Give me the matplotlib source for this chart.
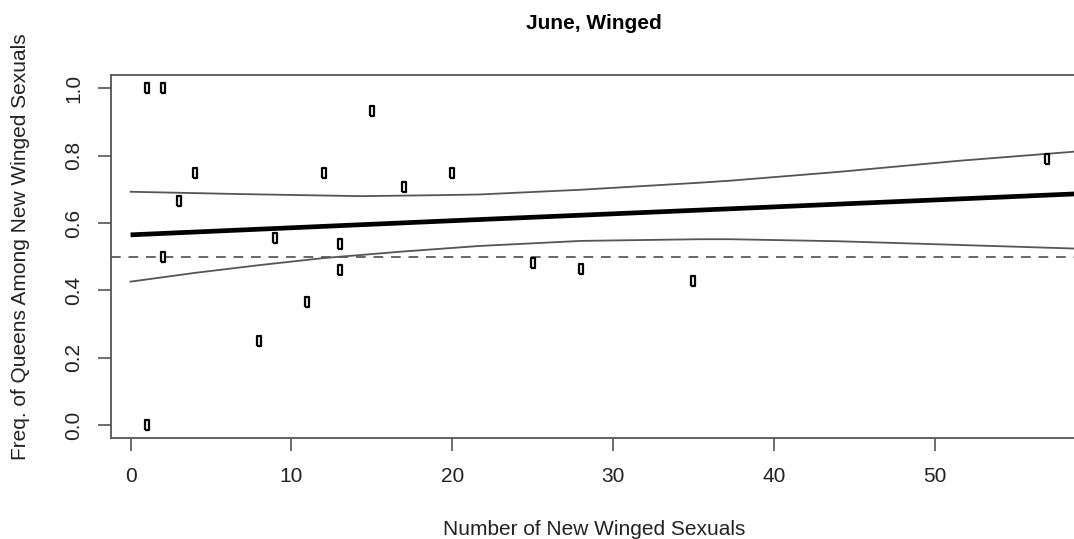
import matplotlib
matplotlib.use("Agg")
import matplotlib.pyplot as plt

plt.rcParams['font.family'] = ['Liberation Sans', 'DejaVu Sans']

# observed colonies: number of new winged sexuals vs. fraction queens
n_sexuals = [1, 1, 2, 2, 3, 4, 8, 9, 11, 12, 13, 13, 15, 17, 20, 25, 28, 35, 57]
freq_queens = [0.0, 1.0, 1.0, 0.5, 0.667, 0.75, 0.25, 0.556, 0.364, 0.75,
               0.538, 0.462, 0.933, 0.706, 0.75, 0.48, 0.464, 0.429, 0.789]

# fitted line and confidence band
fit_x = [0, 20, 40, 58.9]
fit_y = [0.565, 0.607, 0.648, 0.687]
upper_x = [0, 7, 14.3, 19.3, 21.7, 28, 35.4, 37.3, 44, 51.5, 58.9]
upper_y = [0.693, 0.686, 0.680, 0.683, 0.685, 0.699, 0.720, 0.726, 0.752, 0.785, 0.813]
lower_x = [0, 4, 8, 12, 16.8, 21.7, 28, 35.4, 37.3, 44, 51.5, 58.9]
lower_y = [0.426, 0.452, 0.475, 0.496, 0.515, 0.532, 0.547, 0.552, 0.552, 0.546, 0.535, 0.524]

x_ticks = [0, 10, 20, 30, 40, 50]
y_ticks = [0.0, 0.2, 0.4, 0.6, 0.8, 1.0]

fig = plt.figure(figsize=(10.74, 5.39), dpi=100)
ax = fig.add_axes([0.103, 0.1865, 0.9, 0.6744])

ax.axhline(0.5, color='#666666', lw=1.4, ls=(0, (5, 4)))
ax.plot(upper_x, upper_y, color='#555555', lw=1.3)
ax.plot(lower_x, lower_y, color='#555555', lw=1.3)
ax.plot(fit_x, fit_y, color='black', lw=3.4, solid_capstyle='butt')

rect = [(-0.45, -1), (0.45, -1), (0.45, 1), (-0.45, 1), (-0.45, -1)]
ax.plot(n_sexuals, freq_queens, ls='none', marker=rect, markersize=7.5,
        markerfacecolor='white', markeredgecolor='black', markeredgewidth=1.6)

ax.set_xlim(-1.24, 58.86)
ax.set_ylim(-0.04, 1.04)
ax.set_xticks(x_ticks)
ax.set_yticks(y_ticks)
ax.set_xticklabels([str(t) for t in x_ticks])
ax.set_yticklabels(['%.1f' % t for t in y_ticks], rotation=90, va='center')

for s in ax.spines.values():
    s.set_color('#555555')
    s.set_linewidth(1.3)
ax.spines['right'].set_visible(False)
ax.tick_params(axis='both', length=9.5, width=1.2, color='#555555',
               labelsize=15, labelcolor='#222222')
ax.tick_params(axis='x', pad=11)
ax.tick_params(axis='y', pad=10)

fig.text(0.553, 0.957, 'June, Winged', ha='center', va='center',
         fontsize=15, fontweight='bold')
fig.text(0.553, 0.017, 'Number of New Winged Sexuals', ha='center',
         va='center', fontsize=15, color='#222222')
fig.text(0.019, 0.542, 'Freq. of Queens Among New Winged Sexuals',
         ha='center', va='center', rotation=90, fontsize=15, color='#222222')

fig.savefig('out.png', dpi=100)
